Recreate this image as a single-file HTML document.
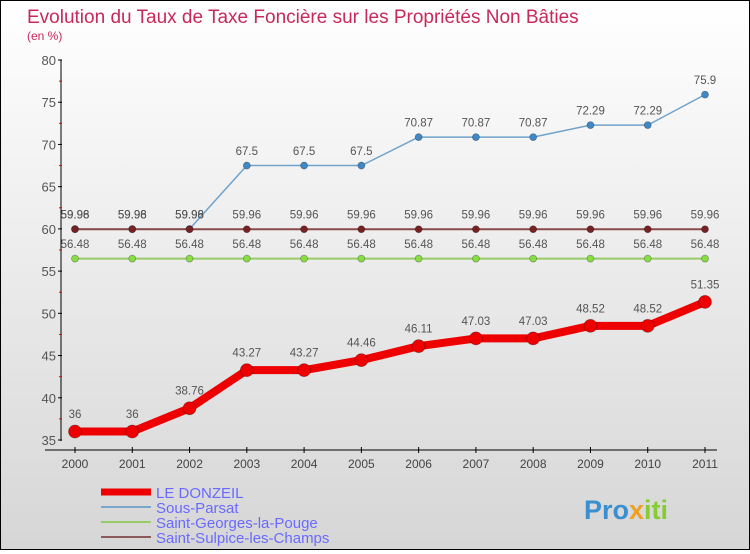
<!DOCTYPE html>
<html><head><meta charset="utf-8"><style>
html,body{margin:0;padding:0}
body{width:750px;height:550px;overflow:hidden;font-family:"Liberation Sans",sans-serif}
#wrap{position:absolute;left:0;top:0;width:748px;height:548px;border:1px solid #000;background:linear-gradient(#fff,#d6d6d6)}
</style></head><body>
<div id="wrap">
<svg id="chart" width="748" height="548"></svg>
</div>
<script>
const years=["2000","2001","2002","2003","2004","2005","2006","2007","2008","2009","2010","2011"];
const leDonzeil=[36,36,38.76,43.27,43.27,44.46,46.11,47.03,47.03,48.52,48.52,51.35];
const sousParsat=[59.98,59.98,59.98,67.5,67.5,67.5,70.87,70.87,70.87,72.29,72.29,75.9];
const saintGeorges=[56.48,56.48,56.48,56.48,56.48,56.48,56.48,56.48,56.48,56.48,56.48,56.48];
const saintSulpice=[59.96,59.96,59.96,59.96,59.96,59.96,59.96,59.96,59.96,59.96,59.96,59.96];
const yTicks=[35,40,45,50,55,60,65,70,75,80];
const NS="http://www.w3.org/2000/svg";
const svg=document.getElementById('chart');
const X=i=>74+i*(630/11);
const Y=v=>439-(v-35)*(380/45);
function mk(t,a,p){const e=document.createElementNS(NS,t);for(const k in a)e.setAttribute(k,a[k]);(p||svg).appendChild(e);return e;}
let t=mk('text',{x:26,y:22,fill:'#c8285a','font-size':19});t.textContent='Evolution du Taux de Taxe Foncière sur les Propriétés Non Bâties';


t=mk('text',{x:26,y:39,fill:'#c8285a','font-size':12});t.textContent='(en %)';


let ax=mk('line',{x1:60,y1:59,x2:60,y2:440,stroke:'#000'});


ax=mk('line',{x1:44,y1:449,x2:716,y2:449,stroke:'#000'});


yTicks.forEach((v,i)=>{
  mk('line',{x1:57,y1:Y(v),x2:61,y2:Y(v),stroke:'#000'});
  if(i<yTicks.length-1) mk('line',{x1:58,y1:Y(v+2.5),x2:61,y2:Y(v+2.5),stroke:'#e00'});
  const l=mk('text',{x:55,y:Y(v)+5,'text-anchor':'end','font-size':13,fill:'#555'});l.textContent=v;
  
  
});
years.forEach((y,i)=>{
  mk('line',{x1:X(i),y1:446,x2:X(i),y2:452,stroke:'#000'});
  const l=mk('text',{x:X(i),y:467,'text-anchor':'middle','font-size':12,fill:'#444'});l.textContent=y;
  
  
});
function series(data,color,w,r,dot,name){
  const g=mk('g',{});
  
  
  mk('polyline',{points:data.map((v,i)=>X(i)+','+Y(v)).join(' '),fill:'none',stroke:color,'stroke-width':w,'stroke-linejoin':'round'},g);
  data.forEach((v,i)=>{
    const c=mk('circle',{cx:X(i),cy:Y(v),r:r,fill:dot,stroke:'rgba(0,0,0,0.3)','stroke-width':0.8},g);
    
    
    const l=mk('text',{x:X(i),y:Y(v)-(r+7),'text-anchor':'middle','font-size':11.5,fill:'#555'},g);l.textContent=v;
    
    
  });
}
series(saintGeorges,'#99cc66',2,3.5,'#88dd44','saint-georges-series');
series(sousParsat,'#6fa3cc',1.5,3.5,'#3f88c5','sous-parsat-series');
series(saintSulpice,'#8b4a4a',2,3.5,'#772222','saint-sulpice-series');
series(leDonzeil,'#ee0000',8,6.5,'#ee0000','le-donzeil-series');
const leg=[["LE DONZEIL","#ee0000",7],["Sous-Parsat","#7aa8cc",2],["Saint-Georges-la-Pouge","#99cc66",2],["Saint-Sulpice-les-Champs","#8b5a5a",2]];
leg.forEach((e,i)=>{
  const g=mk('g',{});
  
  
  const y=491+i*15;
  mk('line',{x1:100,y1:y,x2:150,y2:y,stroke:e[1],'stroke-width':e[2]},g);
  const l=mk('text',{x:155,y:y+6,'font-size':15,fill:'#6a6aff'},g);l.textContent=e[0];
});
const lg=mk('text',{x:583,y:518,'font-size':27,'font-weight':'bold'});


[["Pro","#3a8fd0"],["x","#f0a020"],["iti","#88cc33"]].forEach(p=>{const s=mk('tspan',{fill:p[1]},lg);s.textContent=p[0];});
</script>
</body></html>
